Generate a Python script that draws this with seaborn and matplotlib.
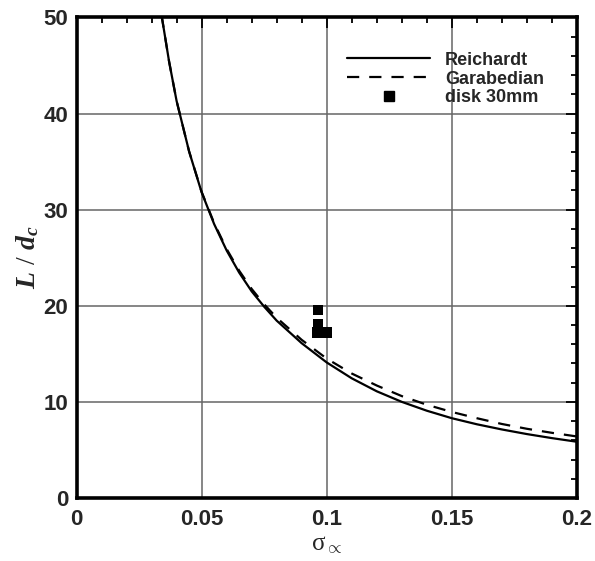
import matplotlib
matplotlib.use("Agg")
import matplotlib.pyplot as plt
from matplotlib.ticker import MultipleLocator
from matplotlib.lines import Line2D
import seaborn as sns
import pandas as pd

# Reichardt cavity length correlation
reichardt_sigma = [0.034, 0.037, 0.040, 0.045, 0.050, 0.055, 0.060, 0.065, 0.070,
                   0.075, 0.080, 0.090, 0.100, 0.110, 0.120, 0.130, 0.140, 0.150,
                   0.160, 0.170, 0.180, 0.190, 0.200]
reichardt_ld = [50.2, 45.4, 41.3, 36.05, 31.8, 28.5, 25.75, 23.45, 21.5,
                19.9, 18.45, 16.1, 14.1, 12.45, 11.1, 10.0, 9.08, 8.3,
                7.67, 7.13, 6.65, 6.23, 5.85]

# Garabedian cavity length correlation
garabedian_sigma = [0.034, 0.037, 0.040, 0.045, 0.050, 0.055, 0.060, 0.065, 0.070,
                    0.075, 0.080, 0.090, 0.100, 0.110, 0.120, 0.130, 0.140, 0.150,
                    0.160, 0.170, 0.180, 0.190, 0.200]
garabedian_ld = [50.2, 45.4, 41.3, 36.05, 31.85, 28.6, 25.9, 23.65, 21.75,
                 20.15, 18.75, 16.45, 14.5, 12.95, 11.7, 10.6, 9.7, 8.95,
                 8.3, 7.7, 7.2, 6.78, 6.4]

# Measurements, 30 mm disk cavitator
disk_sigma = [0.0965, 0.0965, 0.0963, 0.0999]
disk_ld = [19.55, 18.05, 17.2, 17.2]

x_ticks = [0, 0.05, 0.1, 0.15, 0.2]
x_tick_labels = ["0", "0.05", "0.1", "0.15", "0.2"]
y_ticks = [0, 10, 20, 30, 40, 50]

sns.set_style("white")
plt.rcParams["font.family"] = ["Liberation Sans", "DejaVu Sans"]
plt.rcParams["mathtext.fontset"] = "custom"
plt.rcParams["mathtext.rm"] = "Liberation Serif"
plt.rcParams["mathtext.it"] = "Liberation Serif:italic:bold"
plt.rcParams["mathtext.bf"] = "Liberation Serif:bold"

fig = plt.figure(figsize=(5.95, 5.61), dpi=100)
ax = fig.add_axes([0.1286, 0.1123, 0.8411, 0.8567])

df_r = pd.DataFrame({"sigma": reichardt_sigma, "ld": reichardt_ld})
df_g = pd.DataFrame({"sigma": garabedian_sigma, "ld": garabedian_ld})
df_d = pd.DataFrame({"sigma": disk_sigma, "ld": disk_ld})

sns.lineplot(data=df_r, x="sigma", y="ld", ax=ax, color="black", lw=1.6,
             sort=False, estimator=None, zorder=3)
sns.lineplot(data=df_g, x="sigma", y="ld", ax=ax, color="black", lw=1.6,
             sort=False, estimator=None, dashes=False, zorder=3)
ax.lines[-1].set_dashes((5.5, 4.5))
sns.scatterplot(data=df_d, x="sigma", y="ld", ax=ax, marker="s", s=60,
                color="black", edgecolor="none", zorder=4)

ax.set_xlim(0, 0.2)
ax.set_ylim(0, 50)
ax.set_xticks(x_ticks)
ax.set_xticklabels(x_tick_labels)
ax.set_yticks(y_ticks)
ax.xaxis.set_minor_locator(MultipleLocator(0.01))
ax.yaxis.set_minor_locator(MultipleLocator(2))
ax.grid(True, which="major", color="#666666", lw=1.1)
ax.set_axisbelow(True)

ax.tick_params(which="both", direction="in", top=True, right=True,
               color="black", width=1.3)
ax.tick_params(which="major", length=8, labelsize=16, pad=6)
ax.tick_params(axis="x", which="major", pad=8)
ax.tick_params(which="minor", length=4.5)
for lab in ax.get_xticklabels() + ax.get_yticklabels():
    lab.set_fontweight("bold")
for sp in ax.spines.values():
    sp.set_linewidth(2.6)
    sp.set_color("black")

ax.set_xlabel(r"$\mathrm{\sigma}_{\propto}$", fontsize=18, labelpad=1)
ax.set_ylabel(r"$L\ /\ d_c$", fontsize=20, labelpad=2)

handles = [
    Line2D([], [], color="black", lw=1.6),
    Line2D([], [], color="black", lw=1.6, dashes=(5.5, 4.5)),
    Line2D([], [], color="black", lw=0, marker="s", markersize=7.5),
]
labels = ["Reichardt", "Garabedian", "disk 30mm"]
leg = ax.legend(handles, labels, loc="upper left", bbox_to_anchor=(0.5405, 0.929),
                frameon=False, handlelength=4.6, handletextpad=0.83,
                labelspacing=0.11, borderpad=0, borderaxespad=0,
                prop={"family": "Liberation Sans", "weight": "bold", "size": 13})

fig.savefig("out.png", dpi=100)
